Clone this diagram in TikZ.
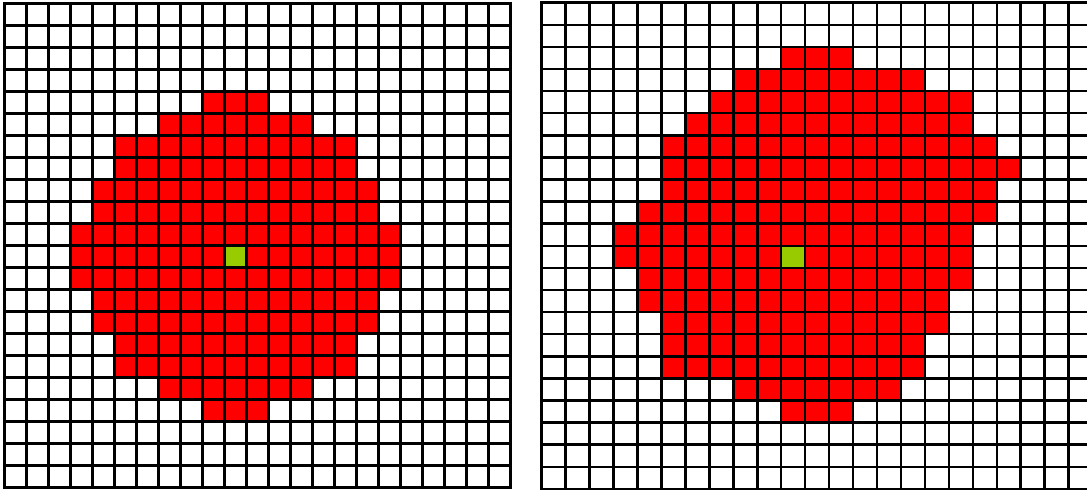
\documentclass[tikz,border=0pt]{standalone}
\definecolor{cellred}{RGB}{255,0,0}
\definecolor{cellgreen}{RGB}{153,204,0}
\begin{document}
\begin{tikzpicture}[x=0.5pt,y=-0.5pt,
  gridline/.style={line width=1.25pt, black, line cap=rect},
  redcell/.style={fill=cellred},
  greencell/.style={fill=cellgreen}]
\useasboundingbox (0,0) rectangle (1087,490);
% ---------- left grid: origin (4.5,3.5), cell 22 x 22, 23 x 22 cells
\def\lx{4.5}\def\ly{3.5}\def\lw{22}\def\lh{22}
\foreach \r/\a/\b in {4/9/11,5/7/13,6/5/15,7/5/15,8/4/16,9/4/16,10/3/17,11/3/17,12/3/17,13/4/16,14/4/16,15/5/15,16/5/15,17/7/13,18/9/11}{
  \fill[redcell] ({\lx+\lw*\a},{\ly+\lh*\r}) rectangle ({\lx+\lw*(\b+1)},{\ly+\lh*(\r+1)});
}
\fill[greencell] ({\lx+\lw*10},{\ly+\lh*11}) rectangle ({\lx+\lw*11},{\ly+\lh*12});
\foreach \i in {0,...,23}{
  \draw[gridline] ({\lx+\lw*\i},{\ly}) -- ({\lx+\lw*\i},{\ly+\lh*22});
}
\foreach \j in {0,...,22}{
  \draw[gridline] ({\lx},{\ly+\lh*\j}) -- ({\lx+\lw*23},{\ly+\lh*\j});
}
% ---------- right grid: origin (541.7,2.7), cell 23.95 x 22.1, clipped at the right edge
\begin{scope}
\clip (0,0) rectangle (1087,490);
\def\rx{541.7}\def\ry{2.7}\def\rw{23.95}\def\rh{22.1}
\foreach \r/\a/\b in {2/10/12,3/8/15,4/7/17,5/6/17,6/5/18,7/5/19,8/5/18,9/4/18,10/3/17,11/3/17,12/4/17,13/4/16,14/5/16,15/5/15,16/5/15,17/8/14,18/10/12}{
  \fill[redcell] ({\rx+\rw*\a},{\ry+\rh*\r}) rectangle ({\rx+\rw*(\b+1)},{\ry+\rh*(\r+1)});
}
\fill[greencell] ({\rx+\rw*10},{\ry+\rh*11}) rectangle ({\rx+\rw*11},{\ry+\rh*12});
\foreach \i in {0,...,23}{
  \draw[gridline] ({\rx+\rw*\i},{\ry}) -- ({\rx+\rw*\i},{\ry+\rh*22});
}
\foreach \j in {0,...,22}{
  \draw[gridline] ({\rx},{\ry+\rh*\j}) -- ({\rx+\rw*23},{\ry+\rh*\j});
}
\end{scope}
\end{tikzpicture}
\end{document}
